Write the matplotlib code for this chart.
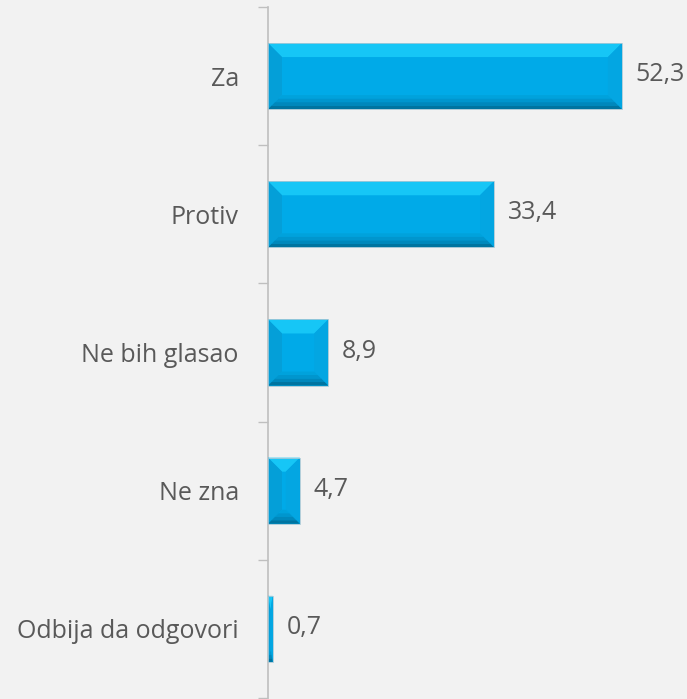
import matplotlib
matplotlib.use("Agg")
import matplotlib.pyplot as plt
from matplotlib.patches import Polygon
import numpy as np

categories = ["Za", "Protiv", "Ne bih glasao", "Ne zna", "Odbija da odgovori"]
values = [52.3, 33.4, 8.9, 4.7, 0.7]
value_labels = ["52,3", "33,4", "8,9", "4,7", "0,7"]

BG = "#F2F2F2"
MAIN = "#00AAE8"
TOP = "#16C6F6"
LEFT = "#049FD8"
RIGHT = "#03A6E2"
BOTTOM_SHADES = ["#00A2DC", "#0096CE", "#0088BC", "#0074A0"]
TEXT = "#595959"
AXC = "#BFBFBF"
FONT = ["Open Sans", "DejaVu Sans"]
FS = 18

W, H, DPI = 687, 699, 100
fig = plt.figure(figsize=(W / DPI, H / DPI), dpi=DPI, facecolor=BG)
ax_left, ax_right = 268, 674
ax_top, ax_bot = 7, 698
ax = fig.add_axes([ax_left / W, (H - ax_bot) / H, (ax_right - ax_left) / W, (ax_bot - ax_top) / H])
ax.set_facecolor(BG)

xmax = 60
n = len(categories)
ypos = np.arange(n)
bar_h = 0.478
ax.set_xlim(0, xmax)
ax.set_ylim(n - 0.5, -0.5)

bars = ax.barh(ypos, values, height=bar_h, color=MAIN, edgecolor="none", zorder=2)

# bevel effect
sx = (ax_right - ax_left) / xmax          # px per x unit
sy = (ax_bot - ax_top) / n                 # px per y unit
bev = 14.0
for rect in bars:
    x0 = rect.get_x()
    w = rect.get_width()
    x1 = x0 + w
    yt = rect.get_y()              # visually top (axis inverted)
    hh = rect.get_height()
    yb = yt + hh
    bx = min(bev / sx, w / 2)
    by = min(bev / sy, hh / 2)
    # top
    ax.add_patch(Polygon([(x0, yt), (x1, yt), (x1 - bx, yt + by), (x0 + bx, yt + by)],
                         closed=True, facecolor=TOP, edgecolor="none", zorder=3))
    # left
    ax.add_patch(Polygon([(x0, yt), (x0 + bx, yt + by), (x0 + bx, yb - by), (x0, yb)],
                         closed=True, facecolor=LEFT, edgecolor="none", zorder=3))
    # right
    ax.add_patch(Polygon([(x1, yt), (x1 - bx, yt + by), (x1 - bx, yb - by), (x1, yb)],
                         closed=True, facecolor=RIGHT, edgecolor="none", zorder=3))
    # bottom (gradient strips)
    k = len(BOTTOM_SHADES)
    for j, c in enumerate(BOTTOM_SHADES):
        f0 = j / k
        f1 = (j + 1) / k
        ya = yb - by + by * f0
        yb2 = yb - by + by * f1
        xa0 = x0 + bx * (1 - f0)
        xa1 = x1 - bx * (1 - f0)
        xb0 = x0 + bx * (1 - f1)
        xb1 = x1 - bx * (1 - f1)
        ax.add_patch(Polygon([(xa0, ya), (xa1, ya), (xb1, yb2), (xb0, yb2)],
                             closed=True, facecolor=c, edgecolor="none", zorder=3))
    # thin outline
    ax.add_patch(Polygon([(x0, yt), (x1, yt), (x1, yb), (x0, yb)], closed=True,
                         facecolor="none", edgecolor="#A9C9D6", linewidth=0.6, zorder=4))

for rect, lab in zip(bars, value_labels):
    ax.annotate(lab, xy=(rect.get_width(), rect.get_y() + rect.get_height() / 2),
                xytext=(10, 1), textcoords="offset points", ha="left", va="center",
                fontsize=FS, color=TEXT, family=FONT, annotation_clip=False)

for s in ["top", "right", "bottom"]:
    ax.spines[s].set_visible(False)
ax.spines["left"].set_color(AXC)
ax.spines["left"].set_linewidth(1.2)

ax.set_xticks([])
ax.set_yticks(ypos)
ax.set_yticklabels(categories, fontsize=FS, color=TEXT, family=FONT)
ax.tick_params(axis="y", which="major", length=0, pad=21)
ax.set_yticks(np.arange(n + 1) - 0.5, minor=True)
ax.tick_params(axis="y", which="minor", length=7.2, width=1.0, color=AXC, direction="out")

fig.savefig("out.png", dpi=DPI, facecolor=BG)
